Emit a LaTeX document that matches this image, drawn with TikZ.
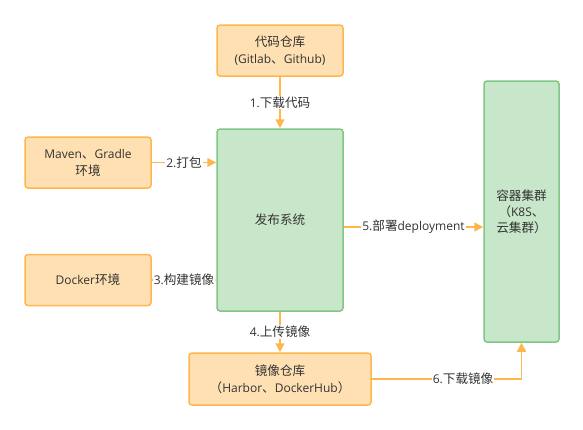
\documentclass[tikz,border=0pt]{standalone}
\usepackage{fontspec}
\setmainfont{Open Sans}
\newfontfamily\cjk[Scale=1.05]{Noto Sans CJK SC}
\usetikzlibrary{arrows.meta}
\definecolor{ofill}{HTML}{FFE0B2}
\definecolor{ostroke}{HTML}{FFB74D}
\definecolor{gfill}{HTML}{C8E6C9}
\definecolor{gstroke}{HTML}{81C784}
\definecolor{txt}{HTML}{333333}
\tikzset{
  obox/.style={draw=ostroke, fill=ofill, line width=1.5pt, rounded corners=3pt, align=center, inner sep=0pt, text=txt, font=\fontsize{12}{17}\selectfont},
  gbox/.style={draw=gstroke, fill=gfill, line width=1.5pt, rounded corners=3pt, align=center, inner sep=0pt, text=txt, font=\fontsize{12}{16}\selectfont},
  conn/.style={draw=ostroke, line width=1.5pt, -{Triangle[length=9pt,width=9pt]}},
  lbl/.style={fill=white, inner sep=1pt, text=txt, font=\fontsize{12}{14}\selectfont},
}
\begin{document}
\begin{tikzpicture}[x=1pt,y=-1pt]
\useasboundingbox (0,0) rectangle (583,429);
\node[obox, minimum width=126pt, minimum height=51pt] (code) at (280,50.5) {{\cjk 代码仓库}\\(Gitlab{\cjk 、}Github)};
\node[obox, minimum width=126pt, minimum height=51pt] (maven) at (88,162.5) {Maven{\cjk 、}Gradle\\{\cjk 环境}};
\node[obox, minimum width=126pt, minimum height=51pt] (docker) at (88,280) {Docker{\cjk 环境}};
\node[gbox, minimum width=126pt, minimum height=182pt] (pub) at (280,220) {{\cjk 发布系统}};
\node[gbox, minimum width=75pt, minimum height=261pt] (k8s) at (521.5,211.5) {{\cjk 容器集群}\\{\cjk （}K8S{\cjk 、}\\{\cjk 云集群）}};
\node[obox, minimum width=182pt, minimum height=52pt] (repo) at (280,379) {{\cjk 镜像仓库}\\{\cjk （}Harbor{\cjk 、}DockerHub{\cjk ）}};
\coordinate (c6) at (k8s.south |- repo.east);
\draw[conn] (code.south) -- node[lbl]{1.{\cjk 下载代码}} (pub.north);
\draw[conn] (maven.east) -- node[lbl]{2.{\cjk 打包}} (maven.east -| pub.west);
\draw[conn] (docker.east) -- node[lbl]{3.{\cjk 构建镜像}} (docker.east -| pub.west);
\draw[conn] (pub.south) -- node[lbl]{4.{\cjk 上传镜像}} (repo.north);
\draw[conn] (pub.east |- 0,227) -- node[lbl]{5.{\cjk 部署}deployment} (k8s.west |- 0,227);
\draw[conn] (repo.east) -- node[lbl, pos=0.61]{6.{\cjk 下载镜像}} (c6) -- (k8s.south);
\end{tikzpicture}
\end{document}
